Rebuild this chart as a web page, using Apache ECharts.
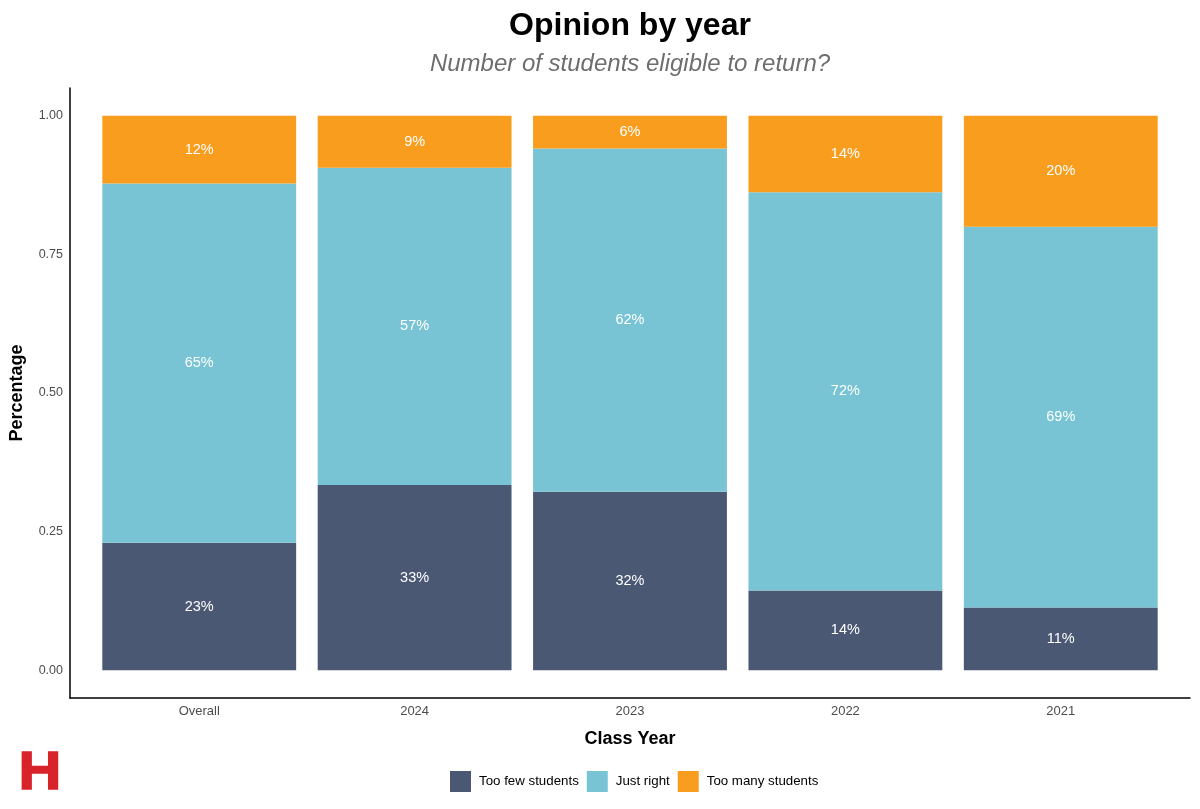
<!DOCTYPE html>
<html>
<head>
<meta charset="utf-8">
<script src="https://cdn.jsdelivr.net/npm/echarts@6/dist/echarts.min.js"></script>
<style>
html,body{margin:0;padding:0;background:#fff;}
#c{width:1200px;height:809px;}
</style>
</head>
<body>
<div id="c"></div>
<script>
const categories = ['Overall', '2024', '2023', '2022', '2021'];
const tooFew = [0.230, 0.334, 0.322, 0.144, 0.113];
const justRight = [0.648, 0.572, 0.619, 0.718, 0.687];
const tooMany = [0.122, 0.094, 0.059, 0.138, 0.200];
const yTicks = [0, 0.25, 0.5, 0.75, 1.0];
const seriesNames = ['Too few students', 'Just right', 'Too many students'];
const colors = ['#4b5874', '#78c4d4', '#f99d1f'];

const FONT = 'Liberation Sans';
const chart = echarts.init(document.getElementById('c'), null, {renderer: 'canvas'});

const unit = 1120 / 5.2;
const gLeft = 70 + 0.1 * unit;
const gRight = 1200 - gLeft - 5 * unit;

function mkSeries(name, data, color) {
  return {
    name: name,
    type: 'bar',
    stack: 'total',
    data: data,
    barWidth: '90%',
    itemStyle: {color: color},
    label: {
      show: true,
      position: 'inside',
      color: '#ffffff',
      fontFamily: FONT,
      fontSize: 14.5,
      formatter: p => Math.round(p.value * 100) + '%'
    },
    emphasis: {disabled: true},
    xAxisIndex: 0,
    yAxisIndex: 0
  };
}

const option = {
  animation: false,
  backgroundColor: '#ffffff',
  textStyle: {fontFamily: FONT},
  color: colors,
  grid: [
    {left: gLeft, right: gRight, top: 88, bottom: 111, containLabel: false, outerBoundsMode: 'none'},
    {left: 70, right: 10, top: 88, bottom: 111, containLabel: false, outerBoundsMode: 'none'}
  ],
  xAxis: [
    {
      type: 'category',
      gridIndex: 0,
      data: categories,
      axisLine: {show: false},
      axisTick: {show: false},
      axisLabel: {color: '#4d4d4d', fontSize: 13, margin: 7, fontFamily: FONT},
      name: 'Class Year',
      nameLocation: 'middle',
      nameGap: 32,
      nameTextStyle: {color: '#000', fontSize: 18, fontWeight: 'bold', fontFamily: FONT}
    },
    {
      type: 'value', gridIndex: 1, min: 0, max: 1,
      axisLine: {show: true, onZero: false, lineStyle: {color: '#000', width: 1.5}},
      axisTick: {show: false}, axisLabel: {show: false}, splitLine: {show: false}
    }
  ],
  yAxis: [
    {
      type: 'value',
      gridIndex: 0,
      min: -0.05,
      max: 1.05,
      interval: 0.05,
      axisLine: {show: false},
      axisTick: {show: false},
      splitLine: {show: false},
      axisLabel: {
        color: '#4d4d4d', fontSize: 12.5, margin: gLeft - 63, fontFamily: FONT,
        formatter: v => {
          const t = yTicks.find(x => Math.abs(x - v) < 1e-6);
          return t === undefined ? '' : t.toFixed(2);
        }
      },
      name: 'Percentage',
      nameLocation: 'middle',
      nameGap: gLeft - 26,
      nameRotate: 90,
      nameTextStyle: {color: '#000', fontSize: 18, fontWeight: 'bold', fontFamily: FONT}
    },
    {
      type: 'value', gridIndex: 1, min: 0, max: 1,
      axisLine: {show: true, onZero: false, lineStyle: {color: '#000', width: 1.5}},
      axisTick: {show: false}, axisLabel: {show: false}, splitLine: {show: false}
    }
  ],
  legend: {
    data: seriesNames,
    left: 450,
    top: 771,
    padding: 0,
    itemWidth: 21,
    itemHeight: 21,
    itemGap: 8,
    icon: 'rect',
    selectedMode: false,
    textStyle: {color: '#000', fontSize: 13.3, fontFamily: FONT, padding: [0, 0, 0, 3]}
  },
  series: [
    mkSeries(seriesNames[0], tooFew, colors[0]),
    mkSeries(seriesNames[1], justRight, colors[1]),
    mkSeries(seriesNames[2], tooMany, colors[2])
  ],
  graphic: [
    {
      type: 'text', x: 630, y: 26,
      style: {text: 'Opinion by year', fill: '#000', font: 'bold 32px "Liberation Sans"', textAlign: 'center', textVerticalAlign: 'middle'}
    },
    {
      type: 'text', x: 630, y: 64,
      style: {text: 'Number of students eligible to return?', fill: '#6e6e6e', font: 'italic 24px "Liberation Sans"', textAlign: 'center', textVerticalAlign: 'middle'}
    },
    {
      type: 'text', x: 40, y: 774, scaleX: 1.12,
      style: {
        text: 'H', font: 'bold 53px "Liberation Sans"', textAlign: 'center', textVerticalAlign: 'middle',
        fill: '#d8232a', stroke: '#d8232a', lineWidth: 1.5
      }
    }
  ]
};
chart.setOption(option);
</script>
</body>
</html>
